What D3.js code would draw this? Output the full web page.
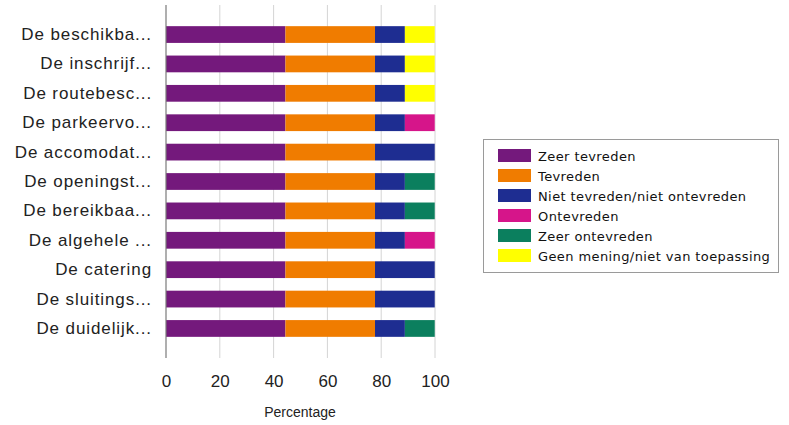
<!DOCTYPE html>
<html><head><meta charset="utf-8">
<script src="https://cdn.jsdelivr.net/npm/d3@7"></script>
<style>body{margin:0;background:#fff}</style>
</head><body>
<script>
const categories = ["De beschikba...","De inschrijf...","De routebesc...","De parkeervo...","De accomodat...","De openingst...","De bereikbaa...","De algehele ...","De catering","De sluitings...","De duidelijk..."];
const seriesNames = ["Zeer tevreden","Tevreden","Niet tevreden/niet ontevreden","Ontevreden","Zeer ontevreden","Geen mening/niet van toepassing"];
const seriesColors = ["#74197C","#F07C00","#1E2D91","#D6158A","#0B7F5E","#FFFF00"];
const zeerTevreden   = [44.4,44.4,44.4,44.4,44.4,44.4,44.4,44.4,44.4,44.4,44.4];
const tevreden       = [33.3,33.3,33.3,33.3,33.3,33.3,33.3,33.3,33.3,33.3,33.3];
const neutraal       = [11.1,11.1,11.1,11.1,22.2,11.1,11.1,11.1,22.2,22.2,11.1];
const ontevreden     = [0,0,0,11.1,0,0,0,11.1,0,0,0];
const zeerOntevreden = [0,0,0,0,0,11.1,11.1,0,0,0,11.1];
const geenMening     = [11.1,11.1,11.1,0,0,0,0,0,0,0,0];
const xTicks = [0,20,40,60,80,100];
const xTitle = "Percentage";

const W=789,H=425;
const svg=d3.select("body").append("svg").attr("width",W).attr("height",H);
const x=d3.scaleLinear().domain([0,100]).range([166,435]);
const y=d3.scaleBand().domain(categories).range([5,358]).paddingInner(0.43).paddingOuter(0.72);

const rows=categories.map((c,i)=>({cat:c,vals:[zeerTevreden[i],tevreden[i],neutraal[i],ontevreden[i],zeerOntevreden[i],geenMening[i]]}));

// gridlines
svg.append("g").selectAll("line").data(xTicks.slice(1)).join("line")
  .attr("x1",d=>x(d)).attr("x2",d=>x(d)).attr("y1",5).attr("y2",358)
  .attr("stroke","#d4d4d4").attr("stroke-width",1);

// bars
const g=svg.append("g");
rows.forEach(r=>{
  let acc=0;
  r.vals.forEach((v,k)=>{
    if(v>0){
      g.append("rect").attr("x",x(acc)).attr("width",x(acc+v)-x(acc))
        .attr("y",y(r.cat)).attr("height",y.bandwidth()).attr("fill",seriesColors[k]);
    }
    acc+=v;
  });
});
// axis line
svg.append("line").attr("x1",x(0)).attr("x2",x(0)).attr("y1",5).attr("y2",358).attr("stroke","#7a7a7a").attr("stroke-width",1.2);

// y labels
const ya=d3.axisLeft(y).tickSize(0).tickPadding(14);
const yg=svg.append("g").attr("transform",`translate(${x(0)},0)`).call(ya);
yg.select(".domain").remove();
yg.selectAll("text").attr("font-family","Liberation Sans, Arial, sans-serif").attr("font-size",17).attr("letter-spacing","0.9px").attr("fill","#222");

// x ticks
const xa=d3.axisBottom(x).tickValues(xTicks).tickSize(0).tickPadding(0);
const xg=svg.append("g").attr("transform","translate(0,375)").call(xa);
xg.select(".domain").remove();
xg.selectAll("text").attr("font-family","Liberation Sans Narrow, Arial Narrow, sans-serif").attr("font-size",17).attr("fill","#222").attr("dy","0.71em");

svg.append("text").attr("x",300).attr("y",417).attr("text-anchor","middle")
  .attr("font-family","Liberation Sans, Arial, sans-serif").attr("font-size",14).attr("fill","#222").text(xTitle);

// legend
const lg=svg.append("g");
lg.append("rect").attr("x",483.5).attr("y",139.5).attr("width",295).attr("height",133).attr("fill","#fff").attr("stroke","#9a9a9a");
seriesNames.forEach((n,i)=>{
  lg.append("rect").attr("x",498).attr("y",149+i*20).attr("width",33).attr("height",13).attr("fill",seriesColors[i]);
  lg.append("text").attr("x",538).attr("y",156+i*20).attr("dy","0.35em")
    .attr("font-family","DejaVu Sans, Verdana, sans-serif").attr("font-size",13).attr("letter-spacing","0.4px").attr("fill","#111").text(n);
});
</script>
</body></html>
